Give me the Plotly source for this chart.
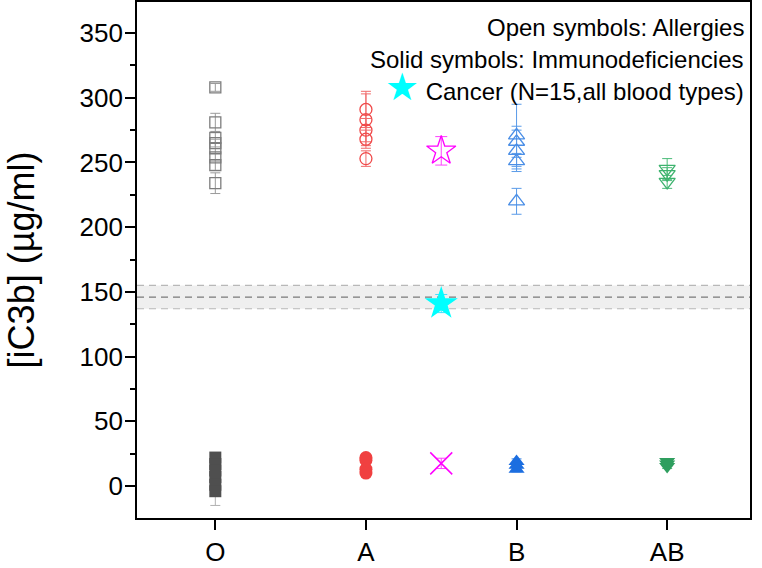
import plotly.graph_objects as go

# ---------------- data ----------------
categories = ["O", "A", "B", "AB"]
cat_pos = [1, 2, 3, 4]
cancer_pos = 2.5

O_allergy = [308, 281, 269, 265, 261, 254, 248, 234]
O_allergy_err = [3, 7, 4, 3, 4, 3, 4, 8]
O_immuno = [22, 17, 12, 7, 1, -4]
O_immuno_err = [2, 3, 3, 3, 3, 11]

A_allergy = [291, 283, 275, 268, 253]
A_allergy_err = [14, 20, 9, 7, 6]
A_immuno = [22, 20, 13, 10]
A_immuno_err = [1.5, 1.5, 2, 2]

B_allergy = [271, 266, 259, 251, 220]
B_allergy_err = [24, 12, 16, 6, 10]
B_immuno = [19, 16, 13]
B_immuno_err = [2, 2, 2]

AB_allergy = [245, 241, 235]
AB_allergy_err = [8, 5, 5]
AB_immuno = [19, 17, 15]
AB_immuno_err = [1.5, 1.5, 1.5]

cancer_allergy = [259]
cancer_allergy_err = [11]
cancer_immuno = [17.5]
cancer_immuno_err = [4]
cancer_all = [141]
cancer_all_err = [7]

ref_mean = 146
ref_low = 137
ref_high = 155

y_ticks = [0, 50, 100, 150, 200, 250, 300, 350]

# ---------------- figure ----------------
fig = go.Figure()

# reference band
fig.add_shape(type="rect", xref="paper", yref="y", x0=0, x1=1, y0=ref_low, y1=ref_high,
              fillcolor="#efefef", line=dict(width=0), layer="below")
for val, col in [(ref_low, "#b8b8b8"), (ref_high, "#b8b8b8"), (ref_mean, "#7a7a7a")]:
    fig.add_shape(type="line", xref="paper", yref="y", x0=0, x1=1, y0=val, y1=val,
                  line=dict(color=col, width=1.2, dash="7px,5px"), layer="below")


def add_group(xpos, vals, errs, symbol, color, ecolor, size=12, lw=1.3, ewidth=5):
    fig.add_trace(go.Scatter(
        x=[xpos] * len(vals), y=vals, mode="markers",
        marker=dict(symbol=symbol, size=size, color=color,
                    line=dict(color=color, width=lw)),
        error_y=dict(type="data", array=errs, color=ecolor, thickness=1, width=ewidth),
        showlegend=False, hoverinfo="y"))


# allergies (open)
add_group(cat_pos[0], O_allergy, O_allergy_err, "square-open", "#7d7d7d", "#9a9a9a", size=11)
add_group(cat_pos[1], A_allergy, A_allergy_err, "circle-open", "#f04a4a", "#f06a6a", size=12)
add_group(cat_pos[2], B_allergy, B_allergy_err, "triangle-up-open", "#4a8ee6", "#5a9be8", size=14)
add_group(cat_pos[3], AB_allergy, AB_allergy_err, "triangle-down-open", "#3db36e", "#4cbc7a", size=14)
add_group(cancer_pos, cancer_allergy, cancer_allergy_err, "star-open", "#ff00ff", "#ff40ff", size=22, ewidth=6)

# immunodeficiencies (solid)
add_group(cat_pos[0], O_immuno, O_immuno_err, "square", "#4f4f4f", "#b0b0b0", size=12, lw=0)
add_group(cat_pos[1], A_immuno, A_immuno_err, "circle", "#f04040", "#f07070", size=13, lw=0)
add_group(cat_pos[2], B_immuno, B_immuno_err, "triangle-up", "#1c6ee0", "#4a8ee6", size=14, lw=0)
add_group(cat_pos[3], AB_immuno, AB_immuno_err, "triangle-down", "#2e9e5e", "#4cbc7a", size=14, lw=0)
add_group(cancer_pos, cancer_immuno, cancer_immuno_err, "x-thin-open", "#ff00ff", "#ff40ff", size=22, lw=1.5, ewidth=5)

# cancer, all blood types
add_group(cancer_pos, cancer_all, cancer_all_err, "star", "#00ffff", "#40e0ff", size=25, lw=0, ewidth=6)

# legend texts
font_family = "Liberation Sans, Arial, sans-serif"
legend_lines = [
    ("Open symbols: Allergies", 0.950),
    ("Solid symbols: Immunodeficiencies", 0.888),
    ('<span style="color:#00ffff;font-size:38px">★</span> Cancer (N=15,all blood types)', 0.836),
]
for txt, yy in legend_lines:
    fig.add_annotation(text=txt, xref="paper", yref="paper", x=0.993, y=yy,
                       xanchor="right", yanchor="middle", showarrow=False,
                       font=dict(family=font_family, size=24, color="black"))

axis_common = dict(showline=True, linecolor="black", linewidth=1.6, showgrid=False,
                   zeroline=False, mirror=True, automargin=False)
y_range = [-24.7, 374]
x_range = [0.48, 4.55]

fig.update_layout(
    template="none",
    width=762, height=568,
    margin=dict(l=137, r=12, t=2, b=50, pad=0),
    paper_bgcolor="white", plot_bgcolor="white",
    font=dict(family=font_family, color="black"),
    xaxis=dict(range=x_range, tickmode="array", tickvals=cat_pos, ticktext=categories,
               ticks="outside", ticklen=10, tickwidth=1.6, tickcolor="black",
               tickfont=dict(size=26), **axis_common),
    yaxis=dict(range=y_range, tickmode="array", tickvals=y_ticks,
               ticks="outside", ticklen=10, tickwidth=1.6, tickcolor="black",
               tickfont=dict(size=26), ticklabelstandoff=-3,
               minor=dict(dtick=25, tick0=0, ticks="outside", ticklen=5, tickwidth=1.6, tickcolor="black"),
               title=dict(text="[iC3b] (µg/ml)", font=dict(size=36), standoff=34),
               **axis_common),
)

# remove the default page margin so the figure sits at the window's top-left corner
fig.write_html("out.html", config={"displayModeBar": False},
               post_script="document.body.style.margin='0';")
